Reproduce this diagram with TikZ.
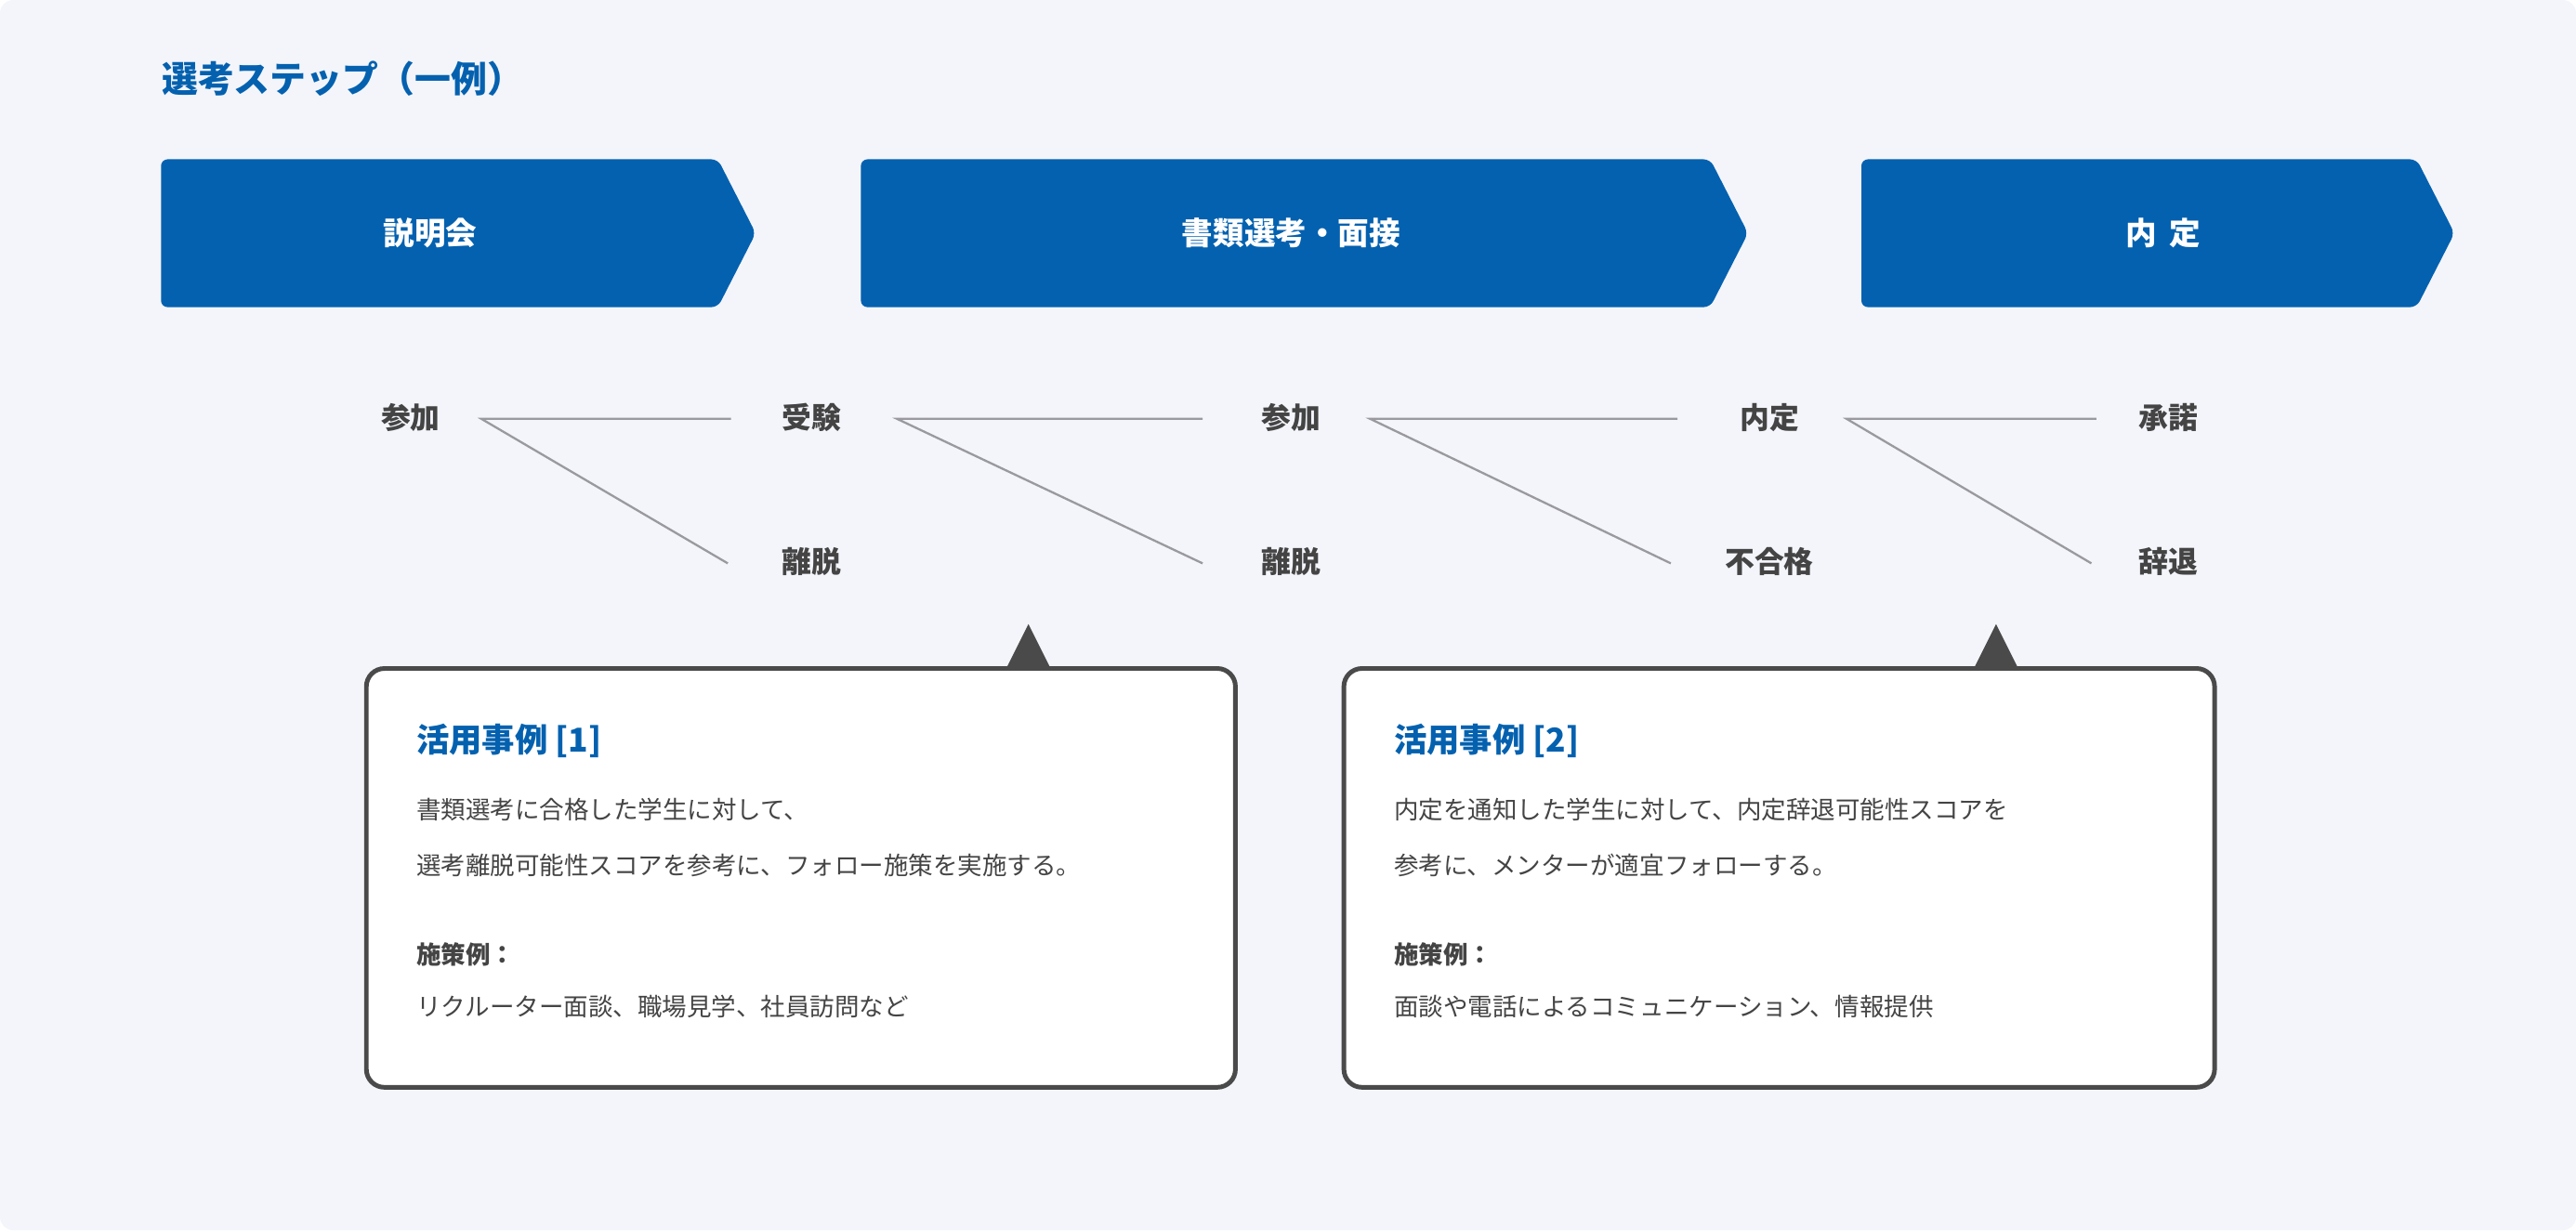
\documentclass[tikz,border=0pt]{standalone}
\usepackage{fontspec}
\setmainfont{Noto Sans CJK JP}
\begin{document}
\begin{tikzpicture}[x=1pt,y=-1pt,
  stage/.style={fill=blue0,rounded corners=4pt},
  stagetxt/.style={text=white,font=\bfseries\fontsize{19}{22}\selectfont},
  lbl/.style={text=txt,font=\bfseries\fontsize{18}{22}\selectfont},
  conn/.style={draw=gray0,line width=1.3pt},
  callout/.style={draw=bord,fill=white,line width=2.8pt,rounded corners=11pt},
  ptr/.style={fill=bord},
  ctitle/.style={anchor=west,text=blue0,font=\bfseries\fontsize{20}{24}\selectfont},
  cbody/.style={anchor=west,text=txt,font=\fontsize{15}{18}\selectfont},
  cbold/.style={anchor=west,text=txt,font=\bfseries\fontsize{15}{18}\selectfont}]
\definecolor{blue0}{HTML}{0461AF}
\definecolor{bg}{HTML}{F3F5FA}
\definecolor{txt}{HTML}{444444}
\definecolor{gray0}{HTML}{9A9A9E}
\definecolor{bord}{HTML}{4A4A4A}
\fill[bg,rounded corners=8pt] (0,0) rectangle (1568,749);
\useasboundingbox (0,0) rectangle (1568,749);
\node[anchor=west,text=blue0,font=\bfseries\fontsize{22}{26}\selectfont] (title) at (95,48) {選考ステップ（一例）};
% stages
\fill[stage] (98,97) -- (437,97) -- (460,142) -- (437,187) -- (98,187) -- cycle;
\fill[stage] (524,97) -- (1041,97) -- (1064,142) -- (1041,187) -- (524,187) -- cycle;
\fill[stage] (1133,97) -- (1471,97) -- (1494,142) -- (1471,187) -- (1133,187) -- cycle;
\node[stagetxt] (s1) at (262,142) {説明会};
\node[stagetxt] (s2) at (786,142) {書類選考・面接};
\node[stagetxt] (s3) at (1317,142) {内\hspace{0.4em}定};
% labels
\node[lbl] (a1) at (250,254) {参加};
\node[lbl] (a2) at (494,254) {受験};
\node[lbl] (a3) at (786,254) {参加};
\node[lbl] (a4) at (1077,254) {内定};
\node[lbl] (a5) at (1320,254) {承諾};
\node[lbl] (b2) at (494,342) {離脱};
\node[lbl] (b3) at (786,342) {離脱};
\node[lbl] (b4) at (1077,342) {不合格};
\node[lbl] (b5) at (1320,342) {辞退};
\coordinate (o1) at (293,255); \coordinate (o2) at (546,255);
\coordinate (o3) at (834,255); \coordinate (o4) at (1124,255);
\coordinate (e2) at (445,255); \coordinate (f2) at (443,343);
\coordinate (e3) at (732,255); \coordinate (f3) at (732,343);
\coordinate (e4) at (1021,255); \coordinate (f4) at (1017,343);
\coordinate (e5) at (1276,255); \coordinate (f5) at (1273,343);
\draw[conn] (e2) -- (o1) -- (f2);
\draw[conn] (e3) -- (o2) -- (f3);
\draw[conn] (e4) -- (o3) -- (f4);
\draw[conn] (e5) -- (o4) -- (f5);
% callouts
\fill[ptr] (626,380) -- (640,408) -- (612,408) -- cycle;
\fill[ptr] (1215,380) -- (1229,408) -- (1201,408) -- cycle;
\draw[callout] (223,407) rectangle (752,662);
\draw[callout] (818,407) rectangle (1348,662);
\node[ctitle] (t1) at (250,451) {活用事例 [1]};
\node[cbody] (p1) at (250,493) {書類選考に合格した学生に対して、};
\node[cbody] (p2) at (250,527) {選考離脱可能性スコアを参考に、フォロー施策を実施する。};
\node[cbold] (p3) at (250,581) {施策例：};
\node[cbody] (p4) at (250,613) {リクルーター面談、職場見学、社員訪問など};
\node[ctitle] (t2) at (845,451) {活用事例 [2]};
\node[cbody] (q1) at (845,493) {内定を通知した学生に対して、内定辞退可能性スコアを};
\node[cbody] (q2) at (845,527) {参考に、メンターが適宜フォローする。};
\node[cbold] (q3) at (845,581) {施策例：};
\node[cbody] (q4) at (845,613) {面談や電話によるコミュニケーション、情報提供};
\end{tikzpicture}
\end{document}
